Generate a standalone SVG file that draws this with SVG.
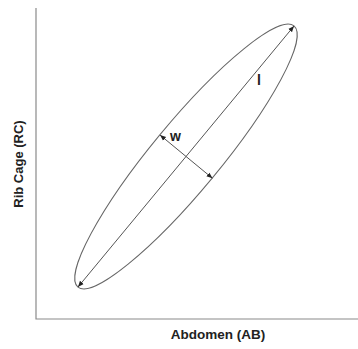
<svg xmlns="http://www.w3.org/2000/svg" width="358" height="349" viewBox="0 0 358 349">
<style>
.axis{stroke:#8a8a8a;stroke-width:1.2;fill:none}
.ell{stroke:#666;stroke-width:1;fill:none}
.ln{stroke:#555;stroke-width:1;fill:none;marker-start:url(#ah);marker-end:url(#ah)}
.lab{font-family:"Liberation Sans",Arial,sans-serif;font-weight:bold;fill:#222}
</style>
<defs>
<marker id="ah" viewBox="0 0 10 10" refX="10" refY="5" markerWidth="6" markerHeight="6" orient="auto-start-reverse" markerUnits="userSpaceOnUse">
<path d="M0,1 L10,5 L0,9 z" fill="#222"/>
</marker>
</defs>
<rect width="358" height="349" fill="#fff"/>
<g id="axes">
<path class="axis" d="M36,8 V319 H358"/>
</g>
<g id="ellipse">
<ellipse class="ell" cx="186" cy="156.5" rx="169.5" ry="34" transform="rotate(-50.4 186 156.5)"/>
</g>
<g id="connectors">
<line class="ln" x1="78" y1="287" x2="294" y2="26"/>
<line class="ln" x1="160" y1="135" x2="212.5" y2="178.3"/>
</g>
<g id="labels">
<text class="lab" x="259" y="85" font-size="14" text-anchor="middle">l</text>
<text class="lab" x="175.5" y="141" font-size="14" text-anchor="middle">w</text>
<text class="lab" x="218" y="339" font-size="13.5" text-anchor="middle">Abdomen (AB)</text>
<text class="lab" x="0" y="0" font-size="13" text-anchor="middle" transform="translate(23 164) rotate(-90)">Rib Cage (RC)</text>
</g>
</svg>
